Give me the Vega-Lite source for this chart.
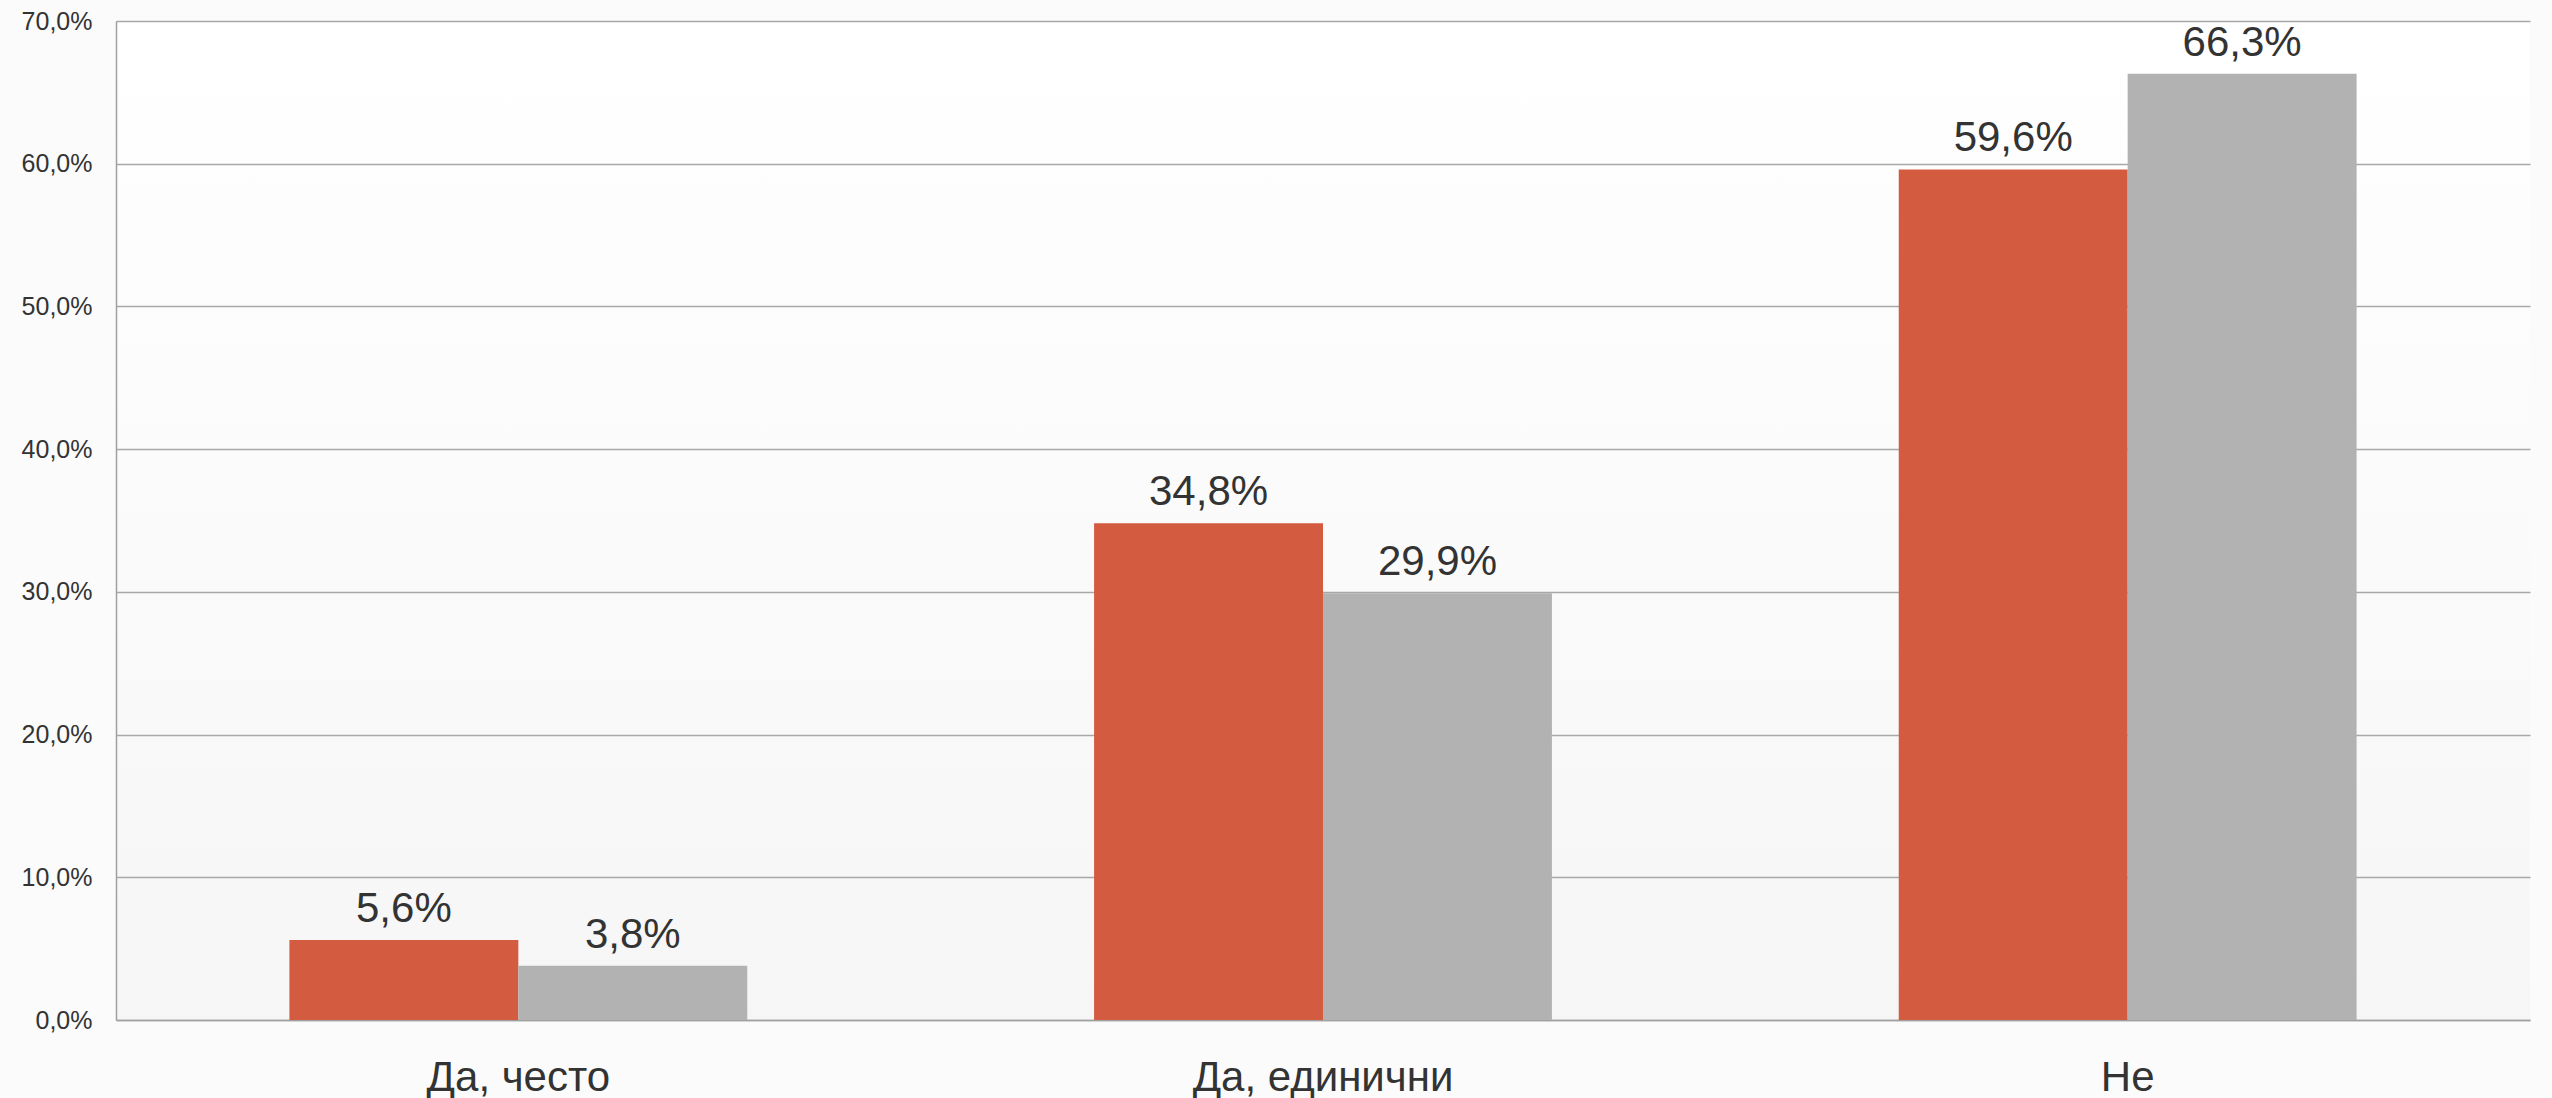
{
  "$schema": "https://vega.github.io/schema/vega-lite/v6.json",
  "autosize": {"type": "none"},
  "width": 2414,
  "height": 999,
  "padding": {"left": 116, "top": 21, "right": 22, "bottom": 78},
  "background": "#fbfbfb",
  "config": {
    "locale": {"number": {"decimal": ",", "thousands": " ", "grouping": [3], "currency": ["", ""]}},
    "view": {"stroke": null, "fill": {"gradient": "linear", "x1": 0, "y1": 0, "x2": 0, "y2": 1, "stops": [{"offset": 0, "color": "#ffffff"}, {"offset": 1, "color": "#f6f6f6"}]}},
    "font": "Liberation Sans"
  },
  "data": {
    "values": [
      {"category": "Да, често", "series": "Серия 1", "value": 0.056},
      {"category": "Да, често", "series": "Серия 2", "value": 0.038},
      {"category": "Да, единични", "series": "Серия 1", "value": 0.348},
      {"category": "Да, единични", "series": "Серия 2", "value": 0.299},
      {"category": "Не", "series": "Серия 1", "value": 0.596},
      {"category": "Не", "series": "Серия 2", "value": 0.663}
    ]
  },
  "encoding": {
    "x": {
      "field": "category", "type": "nominal", "sort": null,
      "scale": {"paddingInner": 0.431, "paddingOuter": 0.2155},
      "axis": {"title": null, "labelAngle": 0, "labelFontSize": 42, "labelLimit": 0, "labelOverlap": false, "labelColor": "#333333", "labelPadding": 37, "ticks": false, "domainColor": "#a0a0a0", "domainWidth": 1.5, "grid": false, "labelBaseline": "top"}
    },
    "xOffset": {"field": "series", "type": "nominal", "scale": {"paddingInner": 0, "paddingOuter": 0}},
    "y": {
      "field": "value", "type": "quantitative",
      "scale": {"domain": [0, 0.7], "nice": false},
      "axis": {"title": null, "format": ".1%", "values": [0, 0.1, 0.2, 0.3, 0.4, 0.5, 0.6, 0.7], "labelOverlap": false, "labelFontSize": 25, "labelColor": "#333333", "labelPadding": 24, "ticks": false, "tickSize": 0, "domainColor": "#a0a0a0", "domainWidth": 1.5, "gridColor": "#a8a8a8", "gridWidth": 1.3}
    }
  },
  "layer": [
    {
      "mark": {"type": "bar"},
      "encoding": {
        "color": {"field": "series", "type": "nominal", "scale": {"range": ["#d35b3f", "#b2b2b2"]}, "legend": null}
      }
    },
    {
      "mark": {"type": "text", "baseline": "alphabetic", "dy": -18, "fontSize": 42, "color": "#333333"},
      "encoding": {
        "text": {"field": "value", "type": "quantitative", "format": ".1%"}
      }
    }
  ]
}
